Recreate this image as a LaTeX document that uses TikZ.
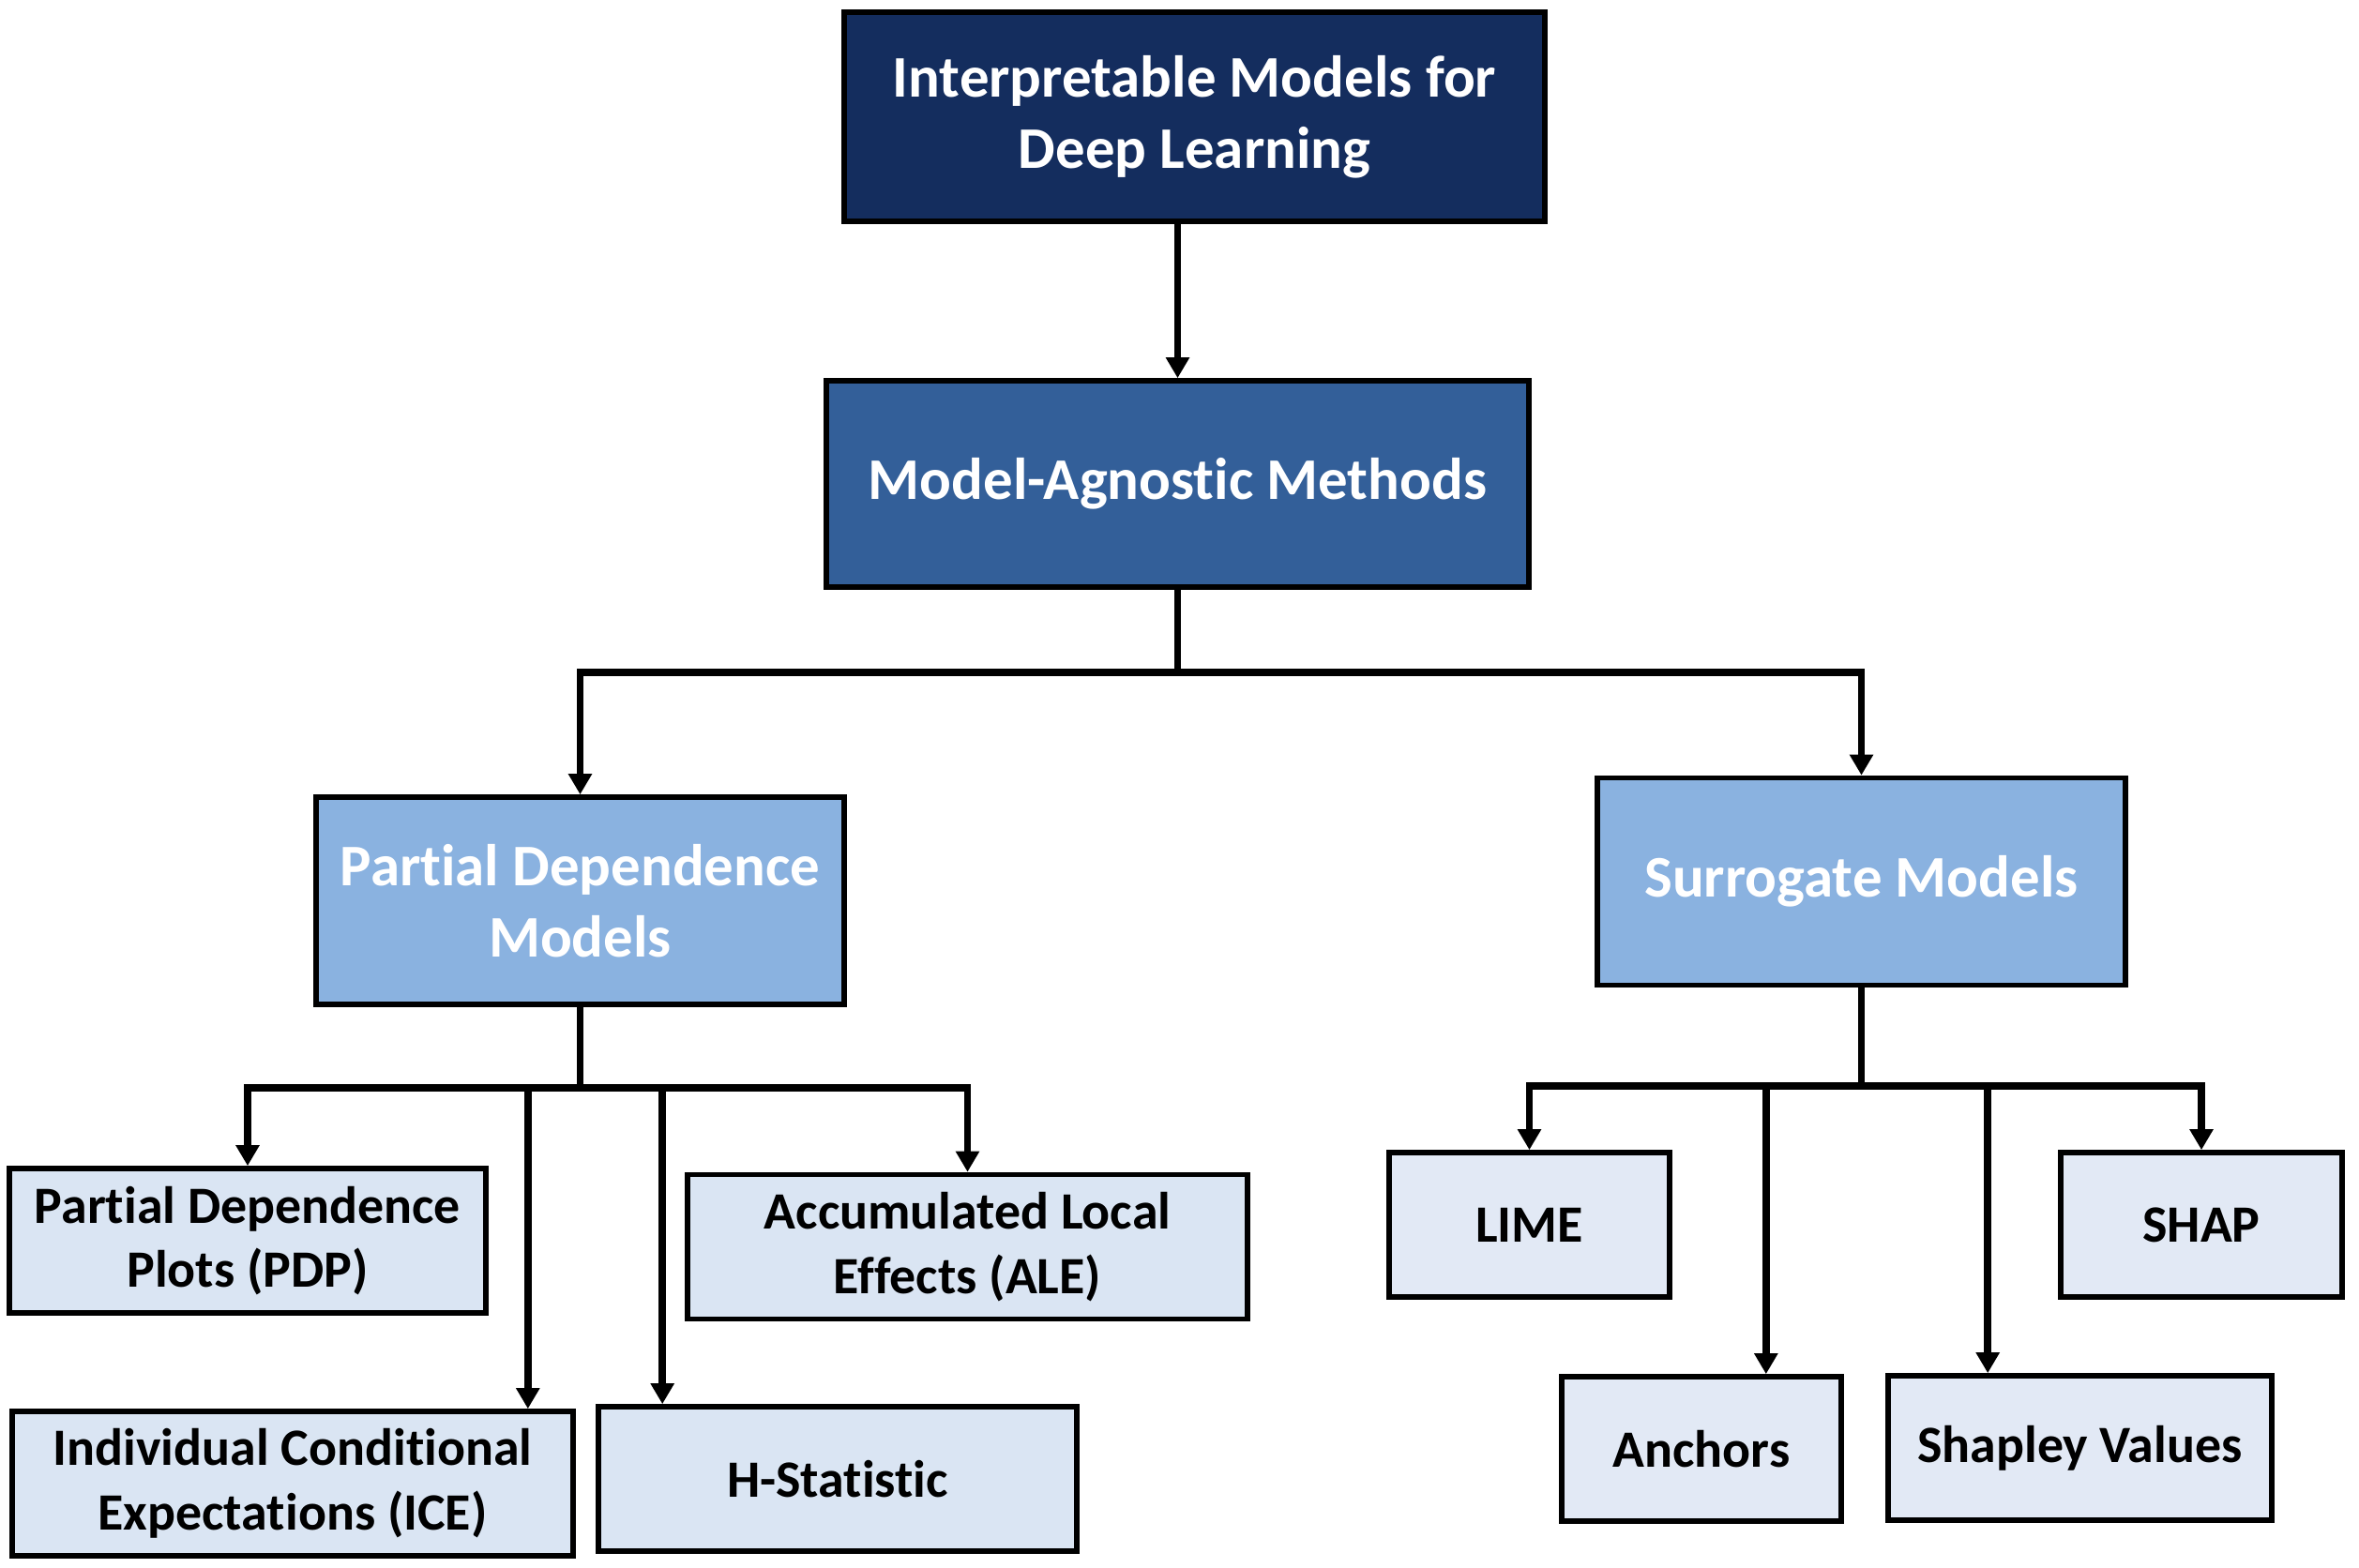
\documentclass[tikz,border=0pt]{standalone}
\usepackage{fontspec}
\setmainfont{Carlito}[Ligatures=NoCommon]
\usepackage{tikz}
\usetikzlibrary{positioning,arrows.meta,calc}

\definecolor{navy}{RGB}{20,45,94}
\definecolor{midblue}{RGB}{51,95,153}
\definecolor{skyblue}{RGB}{138,178,224}
\definecolor{paleblue}{RGB}{218,229,243}
\definecolor{paleblueR}{RGB}{226,233,245}

\begin{document}
\begin{tikzpicture}[
  every node/.style={font=\bfseries},
  root/.style ={draw, line width=1.6pt, fill=navy, text=white, align=center,
                minimum width=7.47cm, minimum height=2.23cm,
                font=\bfseries\fontsize{17.9}{21.5}\selectfont},
  meth/.style ={draw, line width=1.6pt, fill=midblue, text=white, align=center,
                minimum width=7.49cm, minimum height=2.20cm,
                font=\bfseries\fontsize{17.9}{21.5}\selectfont},
  fam/.style  ={draw, line width=1.6pt, fill=skyblue, text=white, align=center,
                minimum width=5.63cm, minimum height=2.21cm,
                font=\bfseries\fontsize{17.9}{21.5}\selectfont},
  leaf/.style ={draw, line width=1.6pt, fill=paleblue, align=center,
                minimum height=1.54cm,
                font=\bfseries\fontsize{15.9}{19.5}\selectfont},
  leafR/.style={leaf, fill=paleblueR},
  arr/.style  ={-{Triangle[width=0.24cm,length=0.22cm]}, line width=2.2pt},
  bus/.style  ={line width=2.2pt}]

\useasboundingbox (0,0) rectangle (25.15,-16.72);

%% ── Top tiers ─────────────────────────────────────────────────────
\node[root] (root) at (12.735,-1.245) {Interpretable Models for\\Deep Learning};
\node[meth] (mam)  at (12.555,-5.16)  {Model-Agnostic Methods};

%% ── Method families ───────────────────────────────────────────────
\node[fam] (pdm) at (6.185,-9.605)  {Partial Dependence\\Models};
\node[fam] (sur) at (19.845,-9.40)  {Surrogate Models};

%% ── Partial dependence leaves ─────────────────────────────────────
\node[leaf, minimum width=5.08cm] (pdp) at (2.64,-13.23)   {Partial Dependence\\Plots (PDP)};
\node[leaf, minimum width=5.97cm] (ale) at (10.315,-13.295) {Accumulated Local\\Effects (ALE)};
\node[leaf, minimum width=5.98cm] (ice) at (3.12,-15.82)   {Individual Conditional\\Expectations (ICE)};
\node[leaf, minimum width=5.10cm] (hst) at (8.93,-15.77)   {H-Statistic};

%% ── Surrogate leaves ──────────────────────────────────────────────
\node[leafR, minimum width=2.99cm] (lime) at (16.305,-13.06) {LIME};
\node[leafR, minimum width=3.00cm] (shap) at (23.47,-13.06)  {SHAP};
\node[leafR, minimum width=2.98cm] (anc)  at (18.14,-15.45)  {Anchors};
\node[leafR, minimum width=4.09cm] (shv)  at (22.175,-15.44) {Shapley Values};

%% ── Bus levels and off-centre entry points ────────────────────────
\coordinate (topbus) at (12.555,-7.17);
\coordinate (lbus)   at (6.185,-11.60);
\coordinate (rbus)   at (19.845,-11.58);
\coordinate (iceIn)  at ($(ice.north east)+(-0.51,0)$);
\coordinate (hstIn)  at ($(hst.north west)+(0.71,0)$);
\coordinate (ancIn)  at ($(anc.north east)+(-0.83,0)$);
\coordinate (shvIn)  at ($(shv.north west)+(1.09,0)$);

%% ── Root → methods ────────────────────────────────────────────────
\draw[arr] (root.south -| mam.north) -- (mam.north);

%% ── Methods → families ────────────────────────────────────────────
\draw[bus] (mam.south) -- (topbus);
\draw[arr] (topbus) -| (pdm.north);
\draw[arr] (topbus) -| (sur.north);

%% ── Partial dependence → leaves ───────────────────────────────────
\draw[bus] (pdm.south) -- (lbus);
\draw[arr] (lbus) -| (pdp.north);
\draw[arr] (lbus) -| (ale.north);
\draw[arr] (iceIn |- lbus) -- (iceIn);
\draw[arr] (hstIn |- lbus) -- (hstIn);

%% ── Surrogate → leaves ────────────────────────────────────────────
\draw[bus] (sur.south) -- (rbus);
\draw[arr] (rbus) -| (lime.north);
\draw[arr] (rbus) -| (shap.north);
\draw[arr] (ancIn |- rbus) -- (ancIn);
\draw[arr] (shvIn |- rbus) -- (shvIn);
\end{tikzpicture}
\end{document}
